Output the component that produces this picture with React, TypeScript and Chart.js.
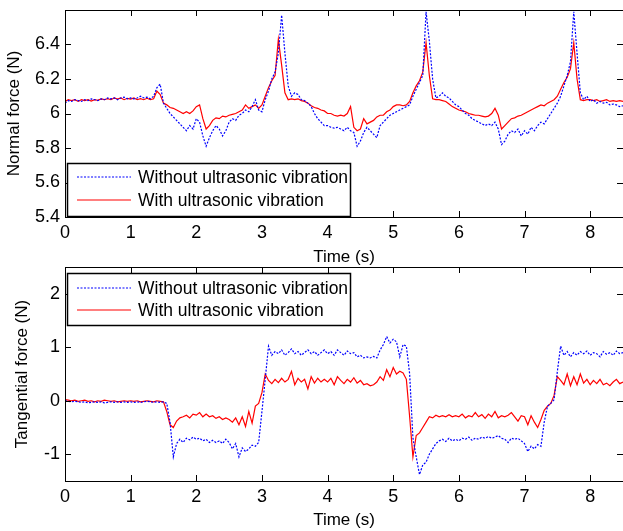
import React, { useEffect, useRef } from 'react';
import { Chart, registerables } from 'chart.js';

Chart.register(...registerables);

// ---------- data ----------
const TIME_STEP = 0.05;
const N_SAMPLES = 171; // 0 .. 8.5 s
const TIME: number[] = Array.from({ length: N_SAMPLES }, (_, i) => +(i * TIME_STEP).toFixed(2));

const TIME_TICKS = [0, 1, 2, 3, 4, 5, 6, 7, 8];
const NORMAL_TICKS = [5.4, 5.6, 5.8, 6, 6.2, 6.4];
const TANGENTIAL_TICKS = [-1, 0, 1, 2];

const SERIES_LABELS = ['Without ultrasonic vibration', 'With ultrasonic vibration'];

// Normal force, without ultrasonic vibration (blue dotted)
const normalWithout = [
  6.06, 6.075, 6.07, 6.08, 6.075, 6.07, 6.08, 6.075, 6.085, 6.08, 6.075, 6.085, 6.08, 6.09, 6.085, 6.09, 6.08, 6.09, 6.095, 6.085,
  6.09, 6.085, 6.09, 6.1, 6.09, 6.095, 6.085, 6.1, 6.15, 6.17, 6.06, 6.03, 6.0, 5.98, 5.96, 5.94, 5.92, 5.9, 5.93, 5.91,
  5.97, 5.95, 5.87, 5.81, 5.86, 5.9, 5.93, 5.91, 5.87, 5.9, 5.95, 5.97, 5.96, 5.99, 6.0, 6.02, 6.01, 6.04, 6.08, 6.02,
  6.01, 6.08, 6.13, 6.2, 6.24, 6.35, 6.57, 6.35, 6.16, 6.1, 6.12, 6.11, 6.08, 6.075, 6.06, 6.04, 6.0, 5.97, 5.95, 5.93,
  5.93, 5.92, 5.915, 5.92, 5.91, 5.9, 5.92, 5.9, 5.89, 5.81, 5.84, 5.89, 5.92, 5.9, 5.88, 5.86, 5.93, 5.95, 5.97, 5.99,
  6.0, 6.01, 6.02, 6.03, 6.04, 6.05, 6.1, 6.14, 6.18, 6.22, 6.59, 6.42, 6.2, 6.09, 6.1, 6.12, 6.1, 6.09, 6.07, 6.05,
  6.04, 6.02, 6.0, 5.99, 5.97, 5.96, 5.95, 5.94, 5.93, 5.94, 5.93, 5.95, 5.91, 5.82, 5.84, 5.88, 5.9, 5.89, 5.91, 5.87,
  5.9, 5.88, 5.92, 5.9, 5.93, 5.95, 5.94, 5.97, 6.0, 6.03, 6.06, 6.1, 6.16, 6.22, 6.3, 6.59, 6.35, 6.12, 6.08, 6.1,
  6.07, 6.08, 6.06, 6.07, 6.06, 6.065, 6.05, 6.055, 6.05, 6.04, 6.045,
];

// Normal force, with ultrasonic vibration (red solid)
const normalWith = [
  6.07, 6.08, 6.075, 6.08, 6.07, 6.08, 6.075, 6.08, 6.072, 6.08, 6.076, 6.085, 6.08, 6.086, 6.08, 6.09, 6.084, 6.09, 6.08, 6.088,
  6.084, 6.09, 6.08, 6.086, 6.08, 6.088, 6.08, 6.085, 6.13, 6.11, 6.06, 6.05, 6.035, 6.03, 6.02, 6.01, 6.0, 6.01, 6.0, 6.015,
  6.04, 6.05, 5.97, 5.91, 5.93, 5.96, 5.975, 5.97, 5.985, 5.98, 5.99, 5.995, 6.0, 6.01, 6.02, 6.05, 6.03, 6.04, 6.05, 6.03,
  6.05, 6.1, 6.15, 6.19, 6.22, 6.43, 6.28, 6.12, 6.08, 6.085, 6.08, 6.085, 6.075, 6.07, 6.06, 6.045, 6.035, 6.03, 6.02, 6.015,
  6.0, 6.0, 5.99, 5.985, 5.99, 5.985, 6.0, 6.04, 5.92, 5.9, 5.91, 5.97, 5.94, 5.95, 5.96, 5.98, 5.99, 5.99, 6.01, 6.02,
  6.04, 6.05, 6.05, 6.045, 6.05, 6.07, 6.12, 6.16, 6.19, 6.24, 6.41, 6.22, 6.085, 6.08, 6.08, 6.075, 6.07, 6.055, 6.04, 6.03,
  6.02, 6.015, 6.01, 6.0, 5.995, 5.99, 5.99, 5.985, 5.98, 5.985, 6.0, 6.03, 5.99, 5.91, 5.93, 5.95, 5.97, 5.975, 5.985, 5.99,
  6.0, 6.01, 6.02, 6.03, 6.04, 6.05, 6.045, 6.06, 6.07, 6.08, 6.1, 6.14, 6.18, 6.21, 6.26, 6.41, 6.2, 6.08, 6.075, 6.08,
  6.08, 6.075, 6.08, 6.07, 6.075, 6.08, 6.07, 6.075, 6.07, 6.075, 6.07,
];

// Tangential force, without ultrasonic vibration (blue dotted)
const tangentialWithout = [
  0.0, -0.01, -0.02, -0.01, -0.02, -0.03, -0.02, -0.04, -0.03, -0.02, -0.03, -0.02, -0.04, -0.03, -0.02, -0.03, -0.02, -0.03, -0.02, -0.03,
  -0.02, -0.03, -0.02, -0.03, -0.02, -0.01, -0.02, -0.03, -0.02, -0.03, -0.02, -0.05, -0.4, -1.05, -0.8, -0.72, -0.78, -0.7, -0.73, -0.68,
  -0.72, -0.7, -0.75, -0.72, -0.78, -0.74, -0.78, -0.75, -0.8, -0.72, -0.78, -0.9, -0.8, -1.05, -0.88, -0.95, -0.9, -0.83, -0.85, -0.78,
  -0.2, 0.4, 1.02, 0.85, 0.92, 0.88, 0.95, 0.85, 0.9, 0.97, 0.88, 0.92, 0.85, 0.9, 0.95, 0.88, 0.92, 0.85, 0.9, 0.95,
  0.88, 0.92, 0.85, 0.95, 0.9, 0.85, 0.93, 0.88, 0.9, 0.82, 0.85, 0.8, 0.82, 0.8, 0.83, 0.8, 0.95, 1.05, 1.2, 1.08,
  1.15, 1.1, 0.82, 1.05, 1.02, 0.5, -0.7, -1.05, -1.38, -1.2, -1.15, -1.0, -0.9, -0.8, -0.75, -0.72, -0.76, -0.7, -0.75, -0.72,
  -0.75, -0.7, -0.72, -0.68, -0.74, -0.7, -0.72, -0.68, -0.7, -0.67, -0.7, -0.68, -0.65, -0.7, -0.72, -0.78, -0.7, -0.72, -0.7, -0.75,
  -0.8, -0.95, -0.85, -0.9, -0.82, -0.85, -0.4, -0.1, -0.05, 0.02, 0.55, 1.02, 0.85, 0.92, 0.82, 0.9, 0.85, 0.92, 0.88, 0.93,
  0.85, 0.9, 0.88, 0.82, 0.92, 0.87, 0.9, 0.85, 0.93, 0.88, 0.9,
];

// Tangential force, with ultrasonic vibration (red solid)
const tangentialWith = [
  0.02, 0.01, 0.0, 0.01, -0.01, 0.0, 0.01, -0.01, 0.0, -0.02, 0.0, -0.01, 0.01, 0.0, -0.01, 0.0, -0.02, -0.01, 0.0, -0.01,
  0.0, -0.01, 0.0, -0.02, -0.01, 0.0, -0.01, -0.02, 0.0, -0.01, -0.02, -0.2, -0.45, -0.5, -0.38, -0.32, -0.3, -0.27, -0.32, -0.25,
  -0.27, -0.22, -0.3, -0.25, -0.3, -0.28, -0.33, -0.3, -0.35, -0.32, -0.35, -0.4, -0.32, -0.45, -0.3, -0.48, -0.2, -0.42, -0.1, -0.05,
  0.15, 0.5, 0.38, 0.32, 0.4, 0.34, 0.42, 0.35, 0.4, 0.55, 0.3, 0.42, 0.35, 0.4, 0.22, 0.45, 0.33, 0.42, 0.35, 0.4,
  0.35, 0.42, 0.3, 0.45, 0.38, 0.32, 0.4, 0.35, 0.43, 0.33, 0.38, 0.3, 0.32, 0.28, 0.3, 0.35, 0.45, 0.38, 0.58, 0.45,
  0.62, 0.5, 0.55, 0.52, 0.4, -0.3, -1.05, -0.65, -0.6, -0.5, -0.4, -0.3, -0.32, -0.27, -0.3, -0.28, -0.3, -0.26, -0.3, -0.28,
  -0.3, -0.25, -0.32, -0.28, -0.3, -0.22, -0.3, -0.26, -0.33, -0.25, -0.3, -0.2, -0.32, -0.28, -0.3, -0.27, -0.22, -0.3, -0.38, -0.28,
  -0.3, -0.45, -0.28, -0.4, -0.5, -0.35, -0.18, -0.1, -0.05, 0.1, 0.45, 0.38, 0.3, 0.5, 0.28, 0.45, 0.3, 0.5, 0.33, 0.4,
  0.3, 0.38, 0.32, 0.4, 0.3, 0.33, 0.28, 0.35, 0.4, 0.32, 0.35,
];

// ---------- styling ----------
const FONT_FAMILY = '"Liberation Sans", Arial, Helvetica, sans-serif';
const TICK_FONT_SIZE = 18;
const TITLE_FONT_SIZE = 17;
const LEGEND_FONT_SIZE = 17.5;
const BLUE = '#0000ff';
const RED = '#ff0000';
const CANVAS_W = 630;
const AREA_LEFT = 65;
const PAD_RIGHT = 7;

type PanelProps = {
  top: number;
  height: number;
  padLeft: number;
  padTop: number;
  xScaleHeight: number;
  yMin: number;
  yMax: number;
  yTicks: number[];
  yTitle: string;
  without: number[];
  withV: number[];
  legendDy: number;
  legendH: number;
  rowYs: number[];
};

const framePlugin = {
  id: 'matlabFrame',
  afterDatasetsDraw(chart: any) {
    const { ctx, chartArea } = chart;
    const { left, right, top, bottom } = chartArea;
    ctx.save();
    ctx.strokeStyle = '#000';
    ctx.lineWidth = 1;
    ctx.setLineDash([]);
    ctx.strokeRect(left + 0.5, top + 0.5, right - left, bottom - top);
    const tl = 6;
    ctx.beginPath();
    const xs = chart.scales.x;
    xs.ticks.forEach((t: any) => {
      const px = Math.round(xs.getPixelForValue(t.value)) + 0.5;
      ctx.moveTo(px, bottom);
      ctx.lineTo(px, bottom - tl);
      ctx.moveTo(px, top);
      ctx.lineTo(px, top + tl);
    });
    const ys = chart.scales.y;
    ys.ticks.forEach((t: any) => {
      const py = Math.round(ys.getPixelForValue(t.value)) + 0.5;
      ctx.moveTo(left, py);
      ctx.lineTo(left + tl, py);
      ctx.moveTo(right, py);
      ctx.lineTo(right - tl, py);
    });
    ctx.stroke();
    ctx.restore();
  },
};

function makeLegendPlugin(dy: number, h: number, rowYs: number[]) {
  return {
    id: 'boxLegend',
    afterDraw(chart: any) {
      const { ctx, chartArea } = chart;
      const bx = chartArea.left + 2;
      const by = chartArea.top + dy;
      const bw = 283;
      ctx.save();
      ctx.fillStyle = '#fff';
      ctx.fillRect(bx, by, bw, h);
      ctx.strokeStyle = '#000';
      ctx.lineWidth = 1.5;
      ctx.setLineDash([]);
      ctx.strokeRect(bx + 0.5, by + 0.5, bw, h - 1);
      chart.data.datasets.forEach((ds: any, i: number) => {
        const y = by + rowYs[i];
        ctx.beginPath();
        ctx.setLineDash(ds.borderDash || []);
        ctx.strokeStyle = ds.borderColor;
        ctx.lineWidth = ds.borderWidth;
        ctx.moveTo(bx + 10, y);
        ctx.lineTo(bx + 64, y);
        ctx.stroke();
        ctx.setLineDash([]);
        ctx.fillStyle = '#000';
        ctx.font = `${LEGEND_FONT_SIZE}px ${FONT_FAMILY}`;
        ctx.textBaseline = 'middle';
        ctx.textAlign = 'left';
        ctx.fillText(ds.label, bx + 71, y + 1);
      });
      ctx.restore();
    },
  };
}

function Panel(p: PanelProps) {
  const ref = useRef<HTMLCanvasElement | null>(null);
  useEffect(() => {
    if (!ref.current) return;
    const tickFont = { family: FONT_FAMILY, size: TICK_FONT_SIZE };
    const titleFont = { family: FONT_FAMILY, size: TITLE_FONT_SIZE };
    const chart = new Chart(ref.current, {
      type: 'line',
      data: {
        datasets: [
          {
            label: SERIES_LABELS[0],
            data: TIME.map((t, i) => ({ x: t, y: p.without[i] })),
            borderColor: BLUE,
            borderWidth: 1.2,
            borderDash: [2, 1.5],
            pointRadius: 0,
            tension: 0,
            fill: false,
          },
          {
            label: SERIES_LABELS[1],
            data: TIME.map((t, i) => ({ x: t, y: p.withV[i] })),
            borderColor: RED,
            borderWidth: 1.2,
            pointRadius: 0,
            tension: 0,
            fill: false,
          },
        ],
      },
      options: {
        responsive: false,
        maintainAspectRatio: false,
        animation: false,
        devicePixelRatio: 1,
        layout: { padding: { left: p.padLeft, top: p.padTop, right: PAD_RIGHT, bottom: 0 } },
        plugins: { legend: { display: false }, tooltip: { enabled: false } },
        scales: {
          x: {
            type: 'linear',
            min: 0,
            max: 8.5,
            afterBuildTicks: (s: any) => {
              s.ticks = TIME_TICKS.map((v) => ({ value: v }));
            },
            afterFit: (s: any) => {
              s.height = p.xScaleHeight;
              s.paddingLeft = 0;
              s.paddingRight = 0;
            },
            grid: { display: false, drawTicks: false },
            border: { display: false },
            ticks: {
              padding: 5,
              font: tickFont,
              color: '#000',
              maxRotation: 0,
              autoSkip: false,
              callback: (v: any) => String(v),
            },
            title: { display: true, text: 'Time (s)', font: titleFont, color: '#000', padding: 0 },
          },
          y: {
            type: 'linear',
            min: p.yMin,
            max: p.yMax,
            afterBuildTicks: (s: any) => {
              s.ticks = p.yTicks.map((v) => ({ value: v }));
            },
            afterFit: (s: any) => {
              s.width = AREA_LEFT - p.padLeft;
              s.paddingTop = 0;
              s.paddingBottom = 0;
            },
            grid: { display: false, drawTicks: false },
            border: { display: false },
            ticks: {
              padding: 5,
              font: tickFont,
              color: '#000',
              autoSkip: false,
              callback: (v: any) => String(v),
            },
            title: { display: true, text: p.yTitle, font: titleFont, color: '#000', padding: 0 },
          },
        },
      },
      plugins: [framePlugin, makeLegendPlugin(p.legendDy, p.legendH, p.rowYs)],
    } as any);
    return () => chart.destroy();
  }, []);
  return (
    <canvas
      ref={ref}
      width={CANVAS_W}
      height={p.height}
      style={{ position: 'absolute', left: 0, top: p.top, width: CANVAS_W, height: p.height }}
    />
  );
}

export default function App() {
  return (
    <div
      style={{
        position: 'absolute',
        left: 0,
        top: 0,
        width: 623,
        height: 531,
        overflow: 'hidden',
        background: '#fff',
      }}
    >
      <Panel
        top={0}
        height={268}
        padLeft={4}
        padTop={10}
        xScaleHeight={51}
        yMin={5.4}
        yMax={6.6}
        yTicks={NORMAL_TICKS}
        yTitle="Normal force (N)"
        without={normalWithout}
        withV={normalWith}
        legendDy={153}
        legendH={54}
        rowYs={[14, 37]}
      />
      <Panel
        top={262}
        height={269}
        padLeft={12}
        padTop={5}
        xScaleHeight={50}
        yMin={-1.5}
        yMax={2.5}
        yTicks={TANGENTIAL_TICKS}
        yTitle="Tangential force (N)"
        without={tangentialWithout}
        withV={tangentialWith}
        legendDy={6}
        legendH={53}
        rowYs={[15, 37]}
      />
    </div>
  );
}
